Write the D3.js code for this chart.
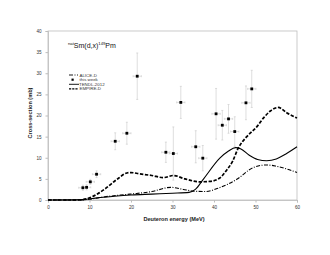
<!DOCTYPE html>
<html>
<head>
<meta charset="utf-8">
<script src="https://cdn.jsdelivr.net/npm/d3@7"></script>
<style>
  body { margin: 0; background: #fff; }
  text { font-family: "Liberation Sans", Arial, sans-serif; }
</style>
</head>
<body>
<div id="chart"></div>
<script>
"use strict";

// measured points (this work): energy, cross-section, y error
var expE   = [8.4, 9.3, 10.2, 11.7, 16.2, 19.0, 21.5, 28.4, 30.2, 32.0, 35.6, 37.3, 40.5, 42.0, 43.5, 45.0, 47.7, 49.1];
var expXS  = [2.9, 3.0, 4.3, 6.1, 13.9, 15.8, 29.3, 11.3, 11.0, 23.1, 12.6, 9.9, 20.4, 17.7, 19.2, 16.2, 23.0, 26.3];
var expErr = [0.6, 0.6, 0.6, 0.8, 2.0, 2.6, 5.5, 2.4, 6.3, 3.8, 3.8, 3.0, 6.0, 3.5, 3.4, 3.5, 4.0, 4.4];
var expEErr = 1.0;

// model curves
var aliceE  = [0, 8, 10, 14, 19.8, 25, 29.6, 32.6, 35, 38, 41, 45.5, 49.5, 52.7, 55, 60];
var aliceXS = [0, 0, 0.2, 0.8, 1.4, 2.0, 3.0, 2.5, 2.1, 2.0, 2.8, 4.9, 7.7, 8.3, 8.0, 6.5];

var tendlE  = [0, 8, 12, 16, 20, 25, 30, 34, 35.5, 37.5, 41.4, 43.5, 45.2, 46.5, 48.5, 50.5, 52.7, 55, 57.5, 60];
var tendlXS = [0, 0.1, 0.5, 0.9, 1.2, 1.4, 1.6, 1.8, 2.5, 5.0, 9.9, 11.6, 12.4, 12.1, 10.6, 9.6, 9.3, 9.7, 11.0, 12.6];

var empireE  = [0, 7, 9.7, 12, 13.7, 16.9, 19, 20, 22, 25, 27.8, 30.2, 33, 36.6, 39, 41.4, 43, 44.5, 45.8, 47.9, 50.3, 52, 53.5, 55.5, 57.6, 60];
var empireXS = [0, 0, 0.4, 1.5, 2.6, 5.1, 6.4, 6.5, 6.2, 5.8, 5.3, 5.8, 5.0, 4.3, 4.4, 5.2, 7.0, 9.2, 12.2, 15.0, 17.3, 19.5, 21.0, 21.9, 20.6, 19.4];

var xTicks = [0, 10, 20, 30, 40, 50, 60];
var yTicks = [0, 5, 10, 15, 20, 25, 30, 35, 40];

var legendLabels = ["ALICE-D", "this week", "TENDL-2012", "EMPIRE-D"];

// layout
var width = 330, height = 255;
var plotLeft = 48, plotRight = 297, plotTop = 31, plotBottom = 200;
var axisColor = "#bdbdbd";

var svg = d3.select("#chart").append("svg").attr("width", width).attr("height", height);

var x = d3.scaleLinear().domain([0, 60]).range([plotLeft, plotRight]);
var y = d3.scaleLinear().domain([0, 40]).range([plotBottom, plotTop]);

// plot frame
svg.append("rect").attr("x", plotLeft).attr("y", plotTop).attr("width", plotRight - plotLeft).attr("height", plotBottom - plotTop)
  .style("fill", "none").style("stroke", axisColor).style("stroke-width", 0.8);

// axes
var yAxis = svg.append("g").attr("transform", "translate(" + plotLeft + ",0)")
  .call(d3.axisLeft(y).tickValues(yTicks).tickSize(2.5).tickPadding(4));
var xAxis = svg.append("g").attr("transform", "translate(0," + plotBottom + ")")
  .call(d3.axisBottom(x).tickValues(xTicks).tickSize(2.5).tickPadding(3));
[xAxis, yAxis].forEach(function (g) {
  g.select(".domain").style("stroke", axisColor).style("stroke-width", 0.8);
  g.selectAll(".tick line").style("stroke", axisColor);
  g.selectAll(".tick text").style("font-size", "4.6px").style("fill", "#333").style("font-family", "Liberation Sans, Arial, sans-serif");
});

// axis titles
svg.append("text").attr("x", 174).attr("y", 221).attr("text-anchor", "middle")
  .style("font-size", "5.6px").style("font-weight", "bold").style("fill", "#222")
  .text("Deuteron energy (MeV)");
svg.append("text").attr("transform", "translate(31.5,113) rotate(-90)").attr("text-anchor", "middle")
  .style("font-size", "5.6px").style("font-weight", "bold").style("fill", "#222")
  .text("Cross-section (mb)");

// chart title with superscripts
var title = svg.append("text").attr("x", 68).attr("y", 47.5).style("font-size", "7px").style("fill", "#111");
title.append("tspan").attr("dy", -2.5).style("font-size", "4.2px").text("nat");
title.append("tspan").attr("dy", 2.5).text("Sm(d,x)");
title.append("tspan").attr("dy", -2.5).style("font-size", "4.2px").text("149");
title.append("tspan").attr("dy", 2.5).text("Pm");

// curves
var line = d3.line().x(function (d) { return x(d[0]); }).y(function (d) { return y(d[1]); }).curve(d3.curveMonotoneX);
function pairs(a, b) { return a.map(function (v, i) { return [v, b[i]]; }); }

var curves = [
  { data: pairs(aliceE, aliceXS), dash: "4,1.5,1,1.5", w: 1.1 },
  { data: pairs(tendlE, tendlXS), dash: null, w: 1.1 },
  { data: pairs(empireE, empireXS), dash: "3.4,1.6", w: 1.7 }
];
curves.forEach(function (c) {
  svg.append("path").datum(c.data).attr("d", line)
    .style("fill", "none").style("stroke", "#000").style("stroke-width", c.w)
    .style("stroke-dasharray", c.dash);
});

// error bars and points
var pts = expE.map(function (e, i) { return { e: e, xs: expXS[i], err: expErr[i] }; });
var errColor = "#c8c8c8";
var eb = svg.append("g");
pts.forEach(function (d) {
  eb.append("line").attr("x1", x(d.e)).attr("x2", x(d.e)).attr("y1", y(d.xs - d.err)).attr("y2", y(d.xs + d.err))
    .style("stroke", errColor).style("stroke-width", 0.6);
  eb.append("line").attr("x1", x(d.e - expEErr)).attr("x2", x(d.e + expEErr)).attr("y1", y(d.xs)).attr("y2", y(d.xs))
    .style("stroke", errColor).style("stroke-width", 0.6);
  [d.xs - d.err, d.xs + d.err].forEach(function (v) {
    eb.append("line").attr("x1", x(d.e) - 1).attr("x2", x(d.e) + 1).attr("y1", y(v)).attr("y2", y(v))
      .style("stroke", errColor).style("stroke-width", 0.6);
  });
  [d.e - expEErr, d.e + expEErr].forEach(function (v) {
    eb.append("line").attr("x1", x(v)).attr("x2", x(v)).attr("y1", y(d.xs) - 1).attr("y2", y(d.xs) + 1)
      .style("stroke", errColor).style("stroke-width", 0.6);
  });
});
svg.append("g").selectAll("rect").data(pts).enter().append("rect")
  .attr("x", function (d) { return x(d.e) - 1.4; }).attr("y", function (d) { return y(d.xs) - 1.4; })
  .attr("width", 2.8).attr("height", 2.8).style("fill", "#000");

// legend
var legend = svg.append("g").attr("transform", "translate(69,0)");
var legY = [75, 79.7, 84.3, 88.8];
legendLabels.forEach(function (label, i) {
  var g = legend.append("g").attr("transform", "translate(0," + legY[i] + ")");
  if (i === 0) {
    g.append("line").attr("x1", 0).attr("x2", 9).style("stroke", "#000").style("stroke-width", 0.9).style("stroke-dasharray", "4,1.5,1,1.5");
  } else if (i === 1) {
    g.append("rect").attr("x", 2.5).attr("y", -1.1).attr("width", 2.2).attr("height", 2.2).style("fill", "#000");
  } else if (i === 2) {
    g.append("line").attr("x1", 0).attr("x2", 10).style("stroke", "#000").style("stroke-width", 0.9);
  } else {
    g.append("line").attr("x1", 0).attr("x2", 9).style("stroke", "#000").style("stroke-width", 1.3).style("stroke-dasharray", "2.2,1");
  }
  g.append("text").attr("x", i === 2 ? 10 : 10.5).attr("y", 1.6).style("font-size", "4.4px").style("fill", "#333").text(label);
});
</script>
</body>
</html>
